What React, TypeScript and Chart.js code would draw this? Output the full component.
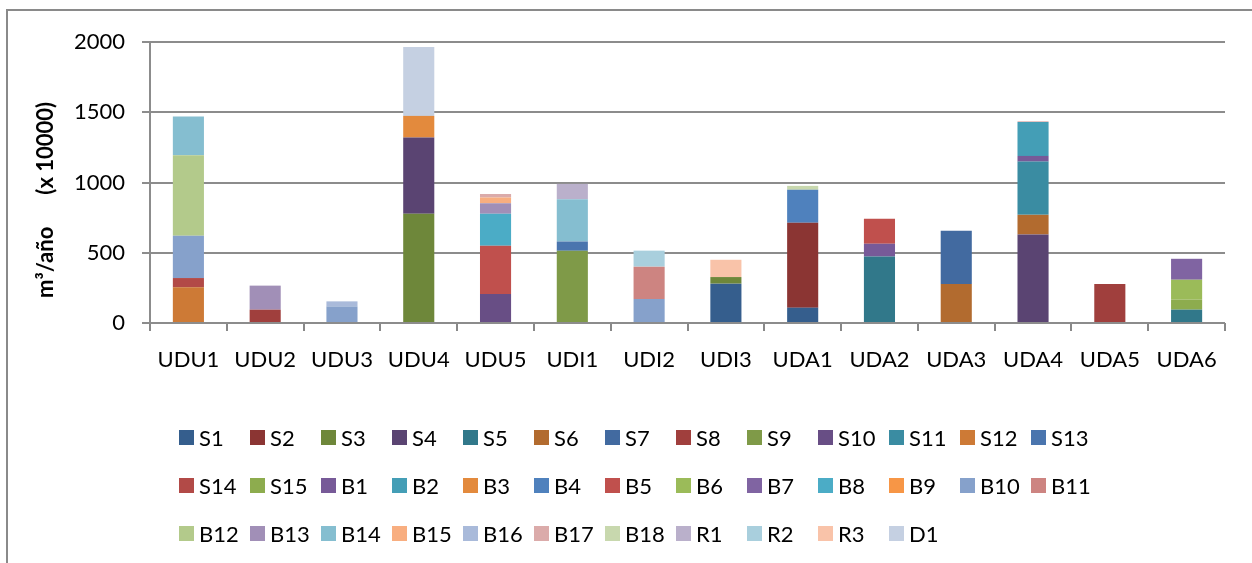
import React, { useEffect, useRef } from "react";
import { Chart, registerables } from "chart.js";

Chart.register(...registerables);

const categories = ["UDU1", "UDU2", "UDU3", "UDU4", "UDU5", "UDI1", "UDI2", "UDI3", "UDA1", "UDA2", "UDA3", "UDA4", "UDA5", "UDA6"];
const yTicks = [0, 500, 1000, 1500, 2000];
const yTitle = "m³/año      (x 10000)";

//               UDU1 UDU2 UDU3 UDU4 UDU5 UDI1 UDI2 UDI3 UDA1 UDA2 UDA3 UDA4 UDA5 UDA6
const S1 =  [0, 0, 0, 0, 0, 0, 0, 280, 109, 0, 0, 0, 0, 0];
const S2 =  [0, 0, 0, 0, 0, 0, 0, 0, 604, 0, 0, 0, 0, 0];
const S3 =  [0, 0, 0, 777, 0, 0, 0, 47, 0, 0, 0, 0, 0, 0];
const S4 =  [0, 0, 0, 543, 0, 0, 0, 0, 0, 0, 0, 630, 0, 0];
const S5 =  [0, 0, 0, 0, 0, 0, 0, 0, 0, 474, 0, 0, 0, 95];
const S6 =  [0, 0, 0, 0, 0, 0, 0, 0, 0, 0, 277, 140, 0, 0];
const S7 =  [0, 0, 0, 0, 0, 0, 0, 0, 0, 0, 379, 0, 0, 0];
const S8 =  [0, 95, 0, 0, 0, 0, 0, 0, 0, 0, 0, 0, 277, 0];
const S9 =  [0, 0, 0, 0, 0, 514, 0, 0, 0, 0, 0, 0, 0, 0];
const S10 = [0, 0, 0, 0, 206, 0, 0, 0, 0, 0, 0, 0, 0, 0];
const S11 = [0, 0, 0, 0, 0, 0, 0, 0, 0, 0, 0, 379, 0, 0];
const S12 = [254, 0, 0, 0, 0, 0, 0, 0, 0, 0, 0, 0, 0, 0];
const S13 = [0, 0, 0, 0, 0, 66, 0, 0, 0, 0, 0, 0, 0, 0];
const S14 = [66, 0, 0, 0, 0, 0, 0, 0, 0, 0, 0, 0, 0, 0];
const S15 = [0, 0, 0, 0, 0, 0, 0, 0, 0, 0, 0, 0, 0, 71];
const B1 =  [0, 0, 0, 0, 0, 0, 0, 0, 0, 90, 0, 40, 0, 0];
const B2 =  [0, 0, 0, 0, 0, 0, 0, 0, 0, 0, 0, 242, 0, 0];
const B3 =  [0, 0, 0, 154, 0, 0, 0, 0, 0, 0, 0, 0, 0, 0];
const B4 =  [0, 0, 0, 0, 0, 0, 0, 0, 235, 0, 0, 0, 0, 0];
const B5 =  [0, 0, 0, 0, 344, 0, 0, 0, 0, 178, 0, 0, 0, 0];
const B6 =  [0, 0, 0, 0, 0, 0, 0, 0, 0, 0, 0, 0, 0, 142];
const B7 =  [0, 0, 0, 0, 0, 0, 0, 0, 0, 0, 0, 0, 0, 149];
const B8 =  [0, 0, 0, 0, 227, 0, 0, 0, 0, 0, 0, 0, 0, 0];
const B9 =  [0, 0, 0, 0, 0, 0, 0, 0, 0, 0, 0, 0, 0, 0];
const B10 = [301, 0, 118, 0, 0, 0, 171, 0, 0, 0, 0, 0, 0, 0];
const B11 = [0, 0, 0, 0, 0, 0, 230, 0, 0, 0, 0, 0, 0, 0];
const B12 = [573, 0, 0, 0, 0, 0, 0, 0, 0, 0, 0, 0, 0, 0];
const B13 = [0, 171, 0, 0, 76, 0, 0, 0, 0, 0, 0, 0, 0, 0];
const B14 = [275, 0, 0, 0, 0, 301, 0, 0, 0, 0, 0, 0, 0, 0];
const B15 = [0, 0, 0, 0, 40, 0, 0, 0, 0, 0, 0, 0, 0, 0];
const B16 = [0, 0, 36, 0, 0, 0, 0, 0, 0, 0, 0, 0, 0, 0];
const B17 = [0, 0, 0, 0, 26, 0, 0, 0, 0, 0, 0, 5, 0, 0];
const B18 = [0, 0, 0, 0, 0, 0, 0, 0, 28, 0, 0, 0, 0, 0];
const R1 =  [0, 0, 0, 0, 0, 109, 0, 0, 0, 0, 0, 0, 0, 0];
const R2 =  [0, 0, 0, 0, 0, 0, 114, 0, 0, 0, 0, 0, 0, 0];
const R3 =  [0, 0, 0, 0, 0, 0, 0, 123, 0, 0, 0, 0, 0, 0];
const D1 =  [0, 0, 0, 490, 0, 0, 0, 0, 0, 0, 0, 0, 0, 0];

const seriesNames = ["S1", "S2", "S3", "S4", "S5", "S6", "S7", "S8", "S9", "S10", "S11", "S12", "S13", "S14", "S15",
  "B1", "B2", "B3", "B4", "B5", "B6", "B7", "B8", "B9", "B10", "B11", "B12", "B13", "B14", "B15", "B16", "B17", "B18",
  "R1", "R2", "R3", "D1"];
const seriesValues = [S1, S2, S3, S4, S5, S6, S7, S8, S9, S10, S11, S12, S13, S14, S15,
  B1, B2, B3, B4, B5, B6, B7, B8, B9, B10, B11, B12, B13, B14, B15, B16, B17, B18, R1, R2, R3, D1];
const seriesColors = ["#355E8D", "#8B3533", "#6E873A", "#5A4472", "#31788A", "#B26B2F", "#426AA0", "#A03F3D",
  "#7F9A48", "#684E85", "#3A8CA2", "#CD7A36", "#4A75AE", "#B24A47", "#8DAC4E",
  "#775A98", "#449EB6", "#E38A3D", "#4F81BD", "#C0504D", "#9BBB59", "#8064A2", "#4BACC6", "#F79646",
  "#86A1CB", "#CD8481", "#B3CA8B", "#A18FB7", "#85BED0", "#F8AE80", "#A9BADA", "#DBABAA", "#C8D8AE",
  "#BAB0CB", "#A9CFDD", "#F9C3A9", "#C5D0E2"];

const FONT = "Lato, 'DejaVu Sans', sans-serif";

export default function App() {
  const ref = useRef<HTMLCanvasElement | null>(null);

  useEffect(() => {
    if (!ref.current) return;
    const titlePlugin = {
      id: "yTitle",
      afterDraw(chart: any) {
        const ctx = chart.ctx;
        ctx.save();
        ctx.translate(46, 200);
        ctx.rotate(-Math.PI / 2);
        ctx.font = `bold 22px ${FONT}`;
        ctx.fillStyle = "#000";
        ctx.textAlign = "center";
        ctx.textBaseline = "middle";
        ctx.fillText(yTitle, 0, 0);
        ctx.restore();
      },
    };
    const chart = new Chart(ref.current, {
      type: "bar",
      data: {
        labels: categories,
        datasets: seriesNames.map((n, i) => ({
          label: n,
          data: seriesValues[i],
          backgroundColor: seriesColors[i],
          borderWidth: 0,
          categoryPercentage: 1,
          barPercentage: 0.405,
          stack: "s",
        })),
      },
      options: {
        responsive: false,
        animation: false,
        devicePixelRatio: 1,
        layout: { padding: { left: 0, right: 27, top: 42, bottom: 0 } },
        plugins: { legend: { display: false }, tooltip: { enabled: false } },
        scales: {
          x: {
            stacked: true,
            grid: { display: true, drawOnChartArea: false, drawTicks: true, tickLength: 8, color: "#888888", lineWidth: 2, offset: true },
            border: { display: false },
            ticks: { color: "#000", font: { family: FONT, size: 22 }, padding: 16, maxRotation: 0, autoSkip: false },
            afterFit: (s: any) => { s.height = 563 - 323; },
          },
          y: {
            stacked: true,
            min: 0,
            max: 2000,
            afterBuildTicks: (s: any) => { s.ticks = yTicks.map((v) => ({ value: v })); },
            grid: { color: "#8c8c8c", lineWidth: 2, tickLength: 8 },
            border: { display: true, color: "#8c8c8c", width: 2 },
            ticks: { color: "#000", font: { family: FONT, size: 22 }, padding: 17, callback: (v: any) => String(v) },
            afterFit: (s: any) => { s.width = 150; },
          },
        },
      },
      plugins: [titlePlugin],
    });
    return () => chart.destroy();
  }, []);

  return (
    <div style={{ position: "fixed", left: 0, top: 0, width: 1252, height: 563, background: "#fff", overflow: "hidden", fontFamily: FONT }}>
      <div style={{ position: "absolute", left: 6, top: 9, width: 1400, height: 800, border: "2px solid #8a8a8a", boxSizing: "border-box" }} />
      <canvas ref={ref} width={1252} height={563} style={{ position: "absolute", left: 0, top: 0, width: 1252, height: 563 }} />
      {seriesNames.map((n, i) => {
        const row = Math.floor(i / 13);
        const col = i % 13;
        const left = 179 + col * 71;
        const top = 430 + row * 48;
        return (
          <div key={n} style={{ position: "absolute", left, top, height: 15, display: "flex", alignItems: "center", whiteSpace: "nowrap" }}>
            <div style={{ width: 15, height: 15, background: seriesColors[i], flex: "none" }} />
            <span style={{ marginLeft: 5, fontSize: 22, color: "#000", lineHeight: "15px" }}>{n}</span>
          </div>
        );
      })}
    </div>
  );
}
